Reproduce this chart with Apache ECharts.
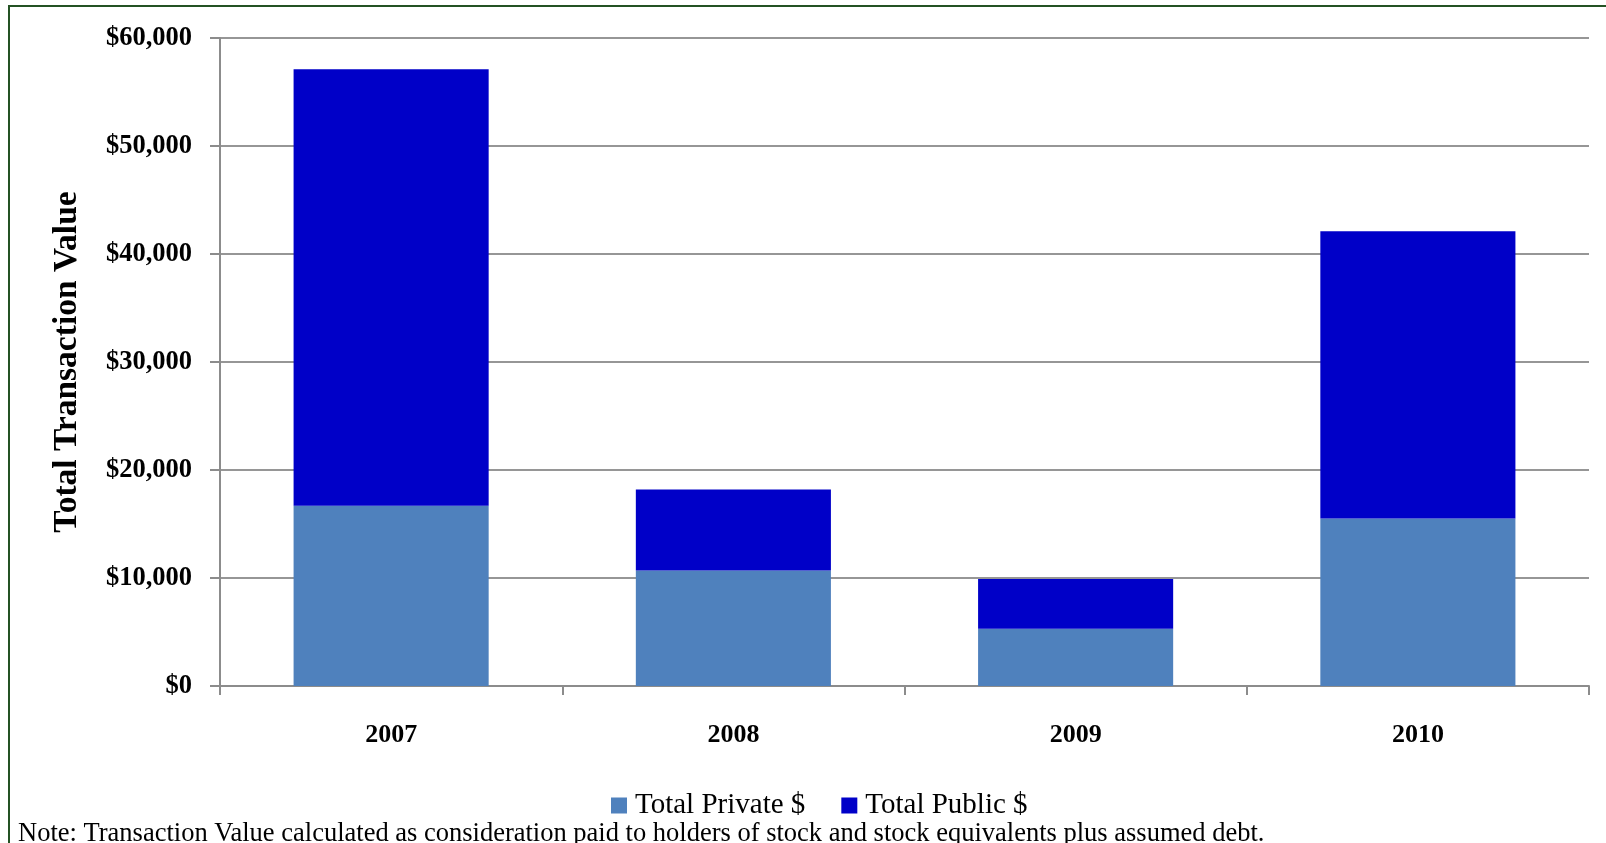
<!DOCTYPE html>
<html>
<head>
<meta charset="utf-8">
<script src="https://cdn.jsdelivr.net/npm/echarts@6/dist/echarts.min.js"></script>
<style>
html,body{margin:0;padding:0;background:#fff;}
#chart{width:1606px;height:843px;}
</style>
</head>
<body>
<div id="chart"></div>
<script>
var categories = ['2007', '2008', '2009', '2010'];
var privateValues = [16700, 10700, 5300, 15500];
var publicValues = [40400, 7500, 4600, 26600];
var yTicks = { min: 0, max: 60000, interval: 10000 };
var seriesNames = ['Total Private $', 'Total Public $'];
var yTitle = 'Total Transaction Value';
var noteText = 'Note: Transaction Value calculated as consideration paid to holders of stock and stock equivalents plus assumed debt.';

var serif = '"Liberation Serif", "Times New Roman", serif';
var chart = echarts.init(document.getElementById('chart'));
chart.setOption({
  animation: false,
  backgroundColor: '#ffffff',
  grid: { left: 220, right: 17, top: 38, bottom: 157 },
  legend: {
    data: seriesNames,
    left: 611, top: 791, padding: 0,
    itemWidth: 16, itemHeight: 16, itemGap: 36,
    icon: 'rect',
    textStyle: { fontFamily: serif, fontSize: 29, color: '#000', padding: [0, 0, 0, 3] }
  },
  xAxis: {
    type: 'category',
    data: categories,
    axisLine: { lineStyle: { color: '#8c8c8c', width: 2 } },
    axisTick: { show: true, length: 9, lineStyle: { color: '#8c8c8c', width: 2 } },
    axisLabel: { margin: 36, fontFamily: serif, fontWeight: 'bold', fontSize: 26, color: '#000' }
  },
  yAxis: {
    type: 'value',
    min: yTicks.min, max: yTicks.max, interval: yTicks.interval,
    axisLine: { show: true, lineStyle: { color: '#8c8c8c', width: 2 } },
    axisTick: { show: true, length: 10, lineStyle: { color: '#8c8c8c', width: 2 } },
    splitLine: { lineStyle: { color: '#969696', width: 2 } },
    axisLabel: {
      margin: 28, fontFamily: serif, fontWeight: 'bold', fontSize: 26.5, color: '#000',
      formatter: function (v) { return '$' + v.toLocaleString('en-US'); }
    }
  },
  series: [
    { name: seriesNames[0], type: 'bar', stack: 'total', barWidth: '57%', data: privateValues,
      itemStyle: { color: '#4f81bd' } },
    { name: seriesNames[1], type: 'bar', stack: 'total', barWidth: '57%', data: publicValues,
      itemStyle: { color: '#0000c8' } }
  ],
  graphic: [
    { type: 'rect', shape: { x: 9, y: 6, width: 1700, height: 1000 }, silent: true,
      style: { fill: 'none', stroke: '#245224', lineWidth: 2 }, z: 100 },
    { type: 'text', x: 67, y: 362, rotation: Math.PI / 2,
      style: { text: yTitle, fontFamily: serif, fontWeight: 'bold', fontSize: 33.5, fill: '#000',
        align: 'center', verticalAlign: 'middle' } },
    { type: 'text', x: 18, y: 834,
      style: { text: noteText, fontFamily: serif, fontSize: 26.5, fill: '#000',
        align: 'left', verticalAlign: 'middle' } }
  ]
});
</script>
</body>
</html>
